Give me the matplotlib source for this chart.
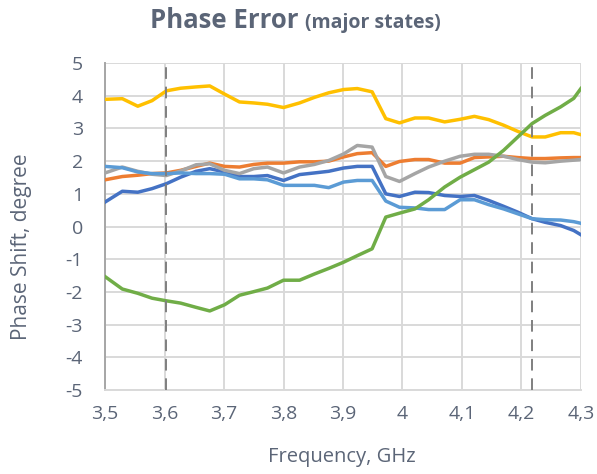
import matplotlib
matplotlib.use("Agg")
import matplotlib.pyplot as plt
from matplotlib.ticker import FuncFormatter

plt.rcParams['font.family'] = ['Open Sans', 'DejaVu Sans']
plt.rcParams['axes.unicode_minus'] = False

# frequency points, GHz
freq = [3.5, 3.529, 3.555, 3.579, 3.603, 3.627, 3.653, 3.676, 3.701, 3.726,
        3.75, 3.773, 3.80, 3.827, 3.852, 3.876, 3.901, 3.924, 3.949, 3.972,
        3.995, 4.021, 4.044, 4.071, 4.097, 4.121, 4.145, 4.170, 4.194, 4.218,
        4.240, 4.266, 4.288, 4.3]

# phase error per state, degree
dark_blue = [0.75, 1.08, 1.05, 1.16, 1.31, 1.51, 1.69, 1.77, 1.67, 1.53,
             1.53, 1.56, 1.41, 1.59, 1.64, 1.69, 1.79, 1.84, 1.84, 1.00,
             0.92, 1.05, 1.04, 0.95, 0.92, 0.95, 0.80, 0.62, 0.44, 0.24,
             0.13, 0.03, -0.12, -0.25]
orange = [1.43, 1.53, 1.57, 1.62, 1.64, 1.72, 1.84, 1.94, 1.84, 1.82,
          1.90, 1.94, 1.94, 1.98, 1.98, 2.00, 2.13, 2.23, 2.26, 1.84,
          1.99, 2.05, 2.05, 1.94, 1.94, 2.11, 2.13, 2.15, 2.11, 2.08,
          2.08, 2.10, 2.11, 2.11]
gray = [1.64, 1.82, 1.69, 1.60, 1.56, 1.70, 1.89, 1.92, 1.72, 1.62,
        1.77, 1.82, 1.64, 1.82, 1.90, 2.02, 2.22, 2.48, 2.43, 1.53,
        1.38, 1.62, 1.82, 2.00, 2.15, 2.21, 2.21, 2.15, 2.05, 1.97,
        1.95, 2.00, 2.03, 2.05]
yellow = [3.89, 3.91, 3.68, 3.85, 4.15, 4.23, 4.27, 4.30, 4.05, 3.81,
          3.78, 3.74, 3.64, 3.78, 3.95, 4.09, 4.19, 4.22, 4.12, 3.30,
          3.17, 3.32, 3.32, 3.20, 3.28, 3.37, 3.27, 3.10, 2.91, 2.74,
          2.74, 2.87, 2.87, 2.81]
light_blue = [1.84, 1.80, 1.67, 1.62, 1.62, 1.64, 1.62, 1.62, 1.60, 1.46,
              1.46, 1.43, 1.26, 1.26, 1.26, 1.19, 1.36, 1.41, 1.41, 0.78,
              0.59, 0.57, 0.52, 0.52, 0.82, 0.82, 0.67, 0.54, 0.39, 0.24,
              0.21, 0.20, 0.15, 0.10]
green = [-1.53, -1.91, -2.04, -2.19, -2.27, -2.34, -2.47, -2.58, -2.39, -2.10,
         -1.99, -1.88, -1.64, -1.64, -1.45, -1.28, -1.09, -0.89, -0.68, 0.29,
         0.41, 0.54, 0.82, 1.21, 1.51, 1.74, 1.97, 2.33, 2.74, 3.15,
         3.40, 3.66, 3.92, 4.22]

band_edges = [3.603, 4.218]
x_ticks = [3.5, 3.6, 3.7, 3.8, 3.9, 4.0, 4.1, 4.2, 4.3]
y_ticks = [-5, -4, -3, -2, -1, 0, 1, 2, 3, 4, 5]

txt = '#5B6577'
fig = plt.figure(figsize=(5.97, 4.74), dpi=100)
ax = fig.add_axes([0.176, 0.177, 0.797, 0.69])

series = [(dark_blue, '#4472C4'), (orange, '#ED7D31'), (gray, '#A5A5A5'),
          (yellow, '#FFC000'), (light_blue, '#5B9BD5'), (green, '#70AD47')]
for vals, col in series:
    ax.plot(freq, vals, color=col, lw=2.5, solid_joinstyle='round', zorder=3)

for xe in band_edges:
    ax.axvline(xe, color='#7F7F7F', lw=1.4, ls=(0, (6, 4)), zorder=4)

ax.set_xlim(3.5, 4.3)
ax.set_ylim(-5, 5)
ax.set_xticks(x_ticks)
ax.set_yticks(y_ticks)
ax.xaxis.set_major_formatter(FuncFormatter(lambda v, p: ('%g' % round(v, 2)).replace('.', ',')))
ax.grid(True, color='#D9D9D9', lw=1.4, zorder=0)
ax.tick_params(length=0, labelsize=14, colors=txt)
ax.tick_params(axis='y', pad=16)
ax.tick_params(axis='x', pad=11)
for s in ['top', 'right']:
    ax.spines[s].set_visible(False)
ax.spines['left'].set_color('#A6A6A6')
ax.spines['bottom'].set_color('#D9D9D9')
ax.spines['left'].set_linewidth(1.4)
ax.spines['bottom'].set_linewidth(1.4)

fig.text(342 / 597, 1 - 457 / 474, 'Frequency, GHz', ha='center', va='center',
         fontsize=14.5, color=txt)
fig.text(22 / 597, 1 - 247 / 474, 'Phase Shift, degree', ha='center', va='center',
         rotation=90, fontsize=15, color=txt)

fig.text(299 / 597, 0.940, 'Phase Error', ha='right', va='baseline',
         fontsize=18.5, fontweight='bold', color=txt)
fig.text(305 / 597, 0.940, '(major states)', ha='left', va='baseline',
         fontsize=14, fontweight='bold', color=txt)

fig.savefig('out.png', dpi=100)
